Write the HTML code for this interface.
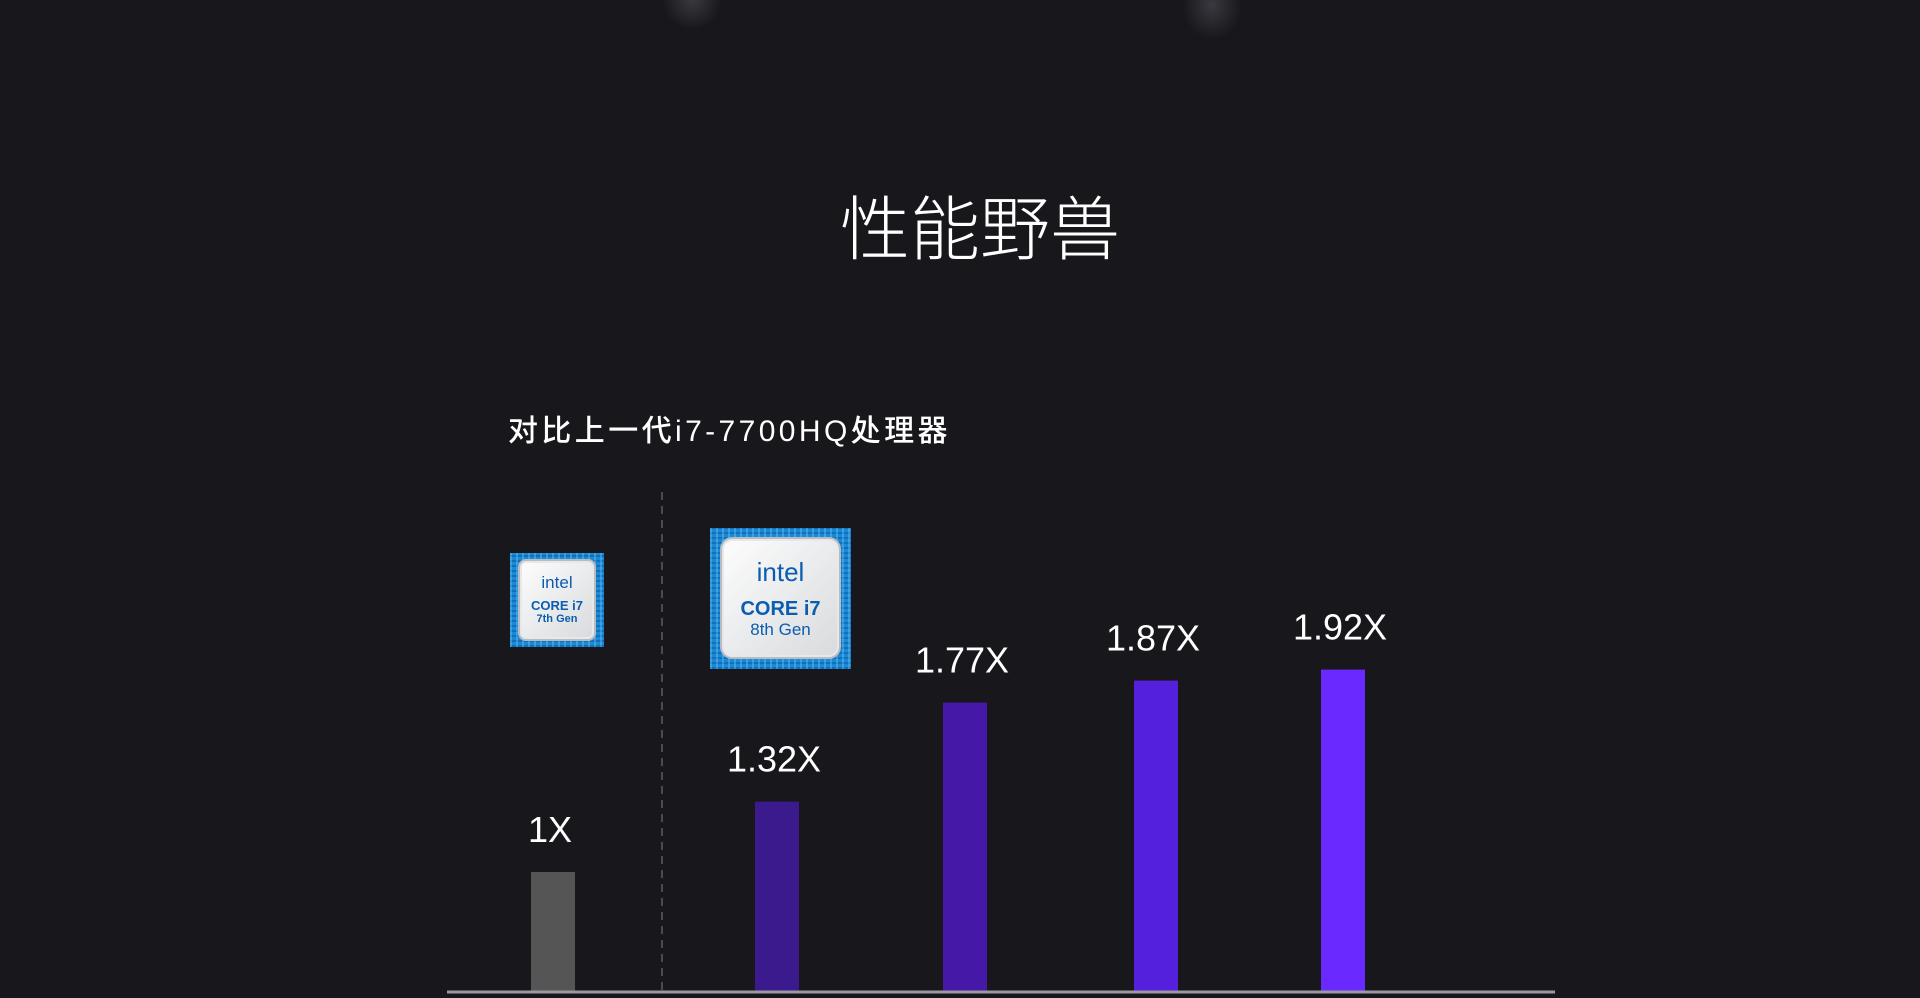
<!DOCTYPE html>
<html><head><meta charset="utf-8"><style>
html,body{margin:0;padding:0;background:#18171c;}
#wrap{position:relative;width:1920px;height:998px;overflow:hidden;background:#18171c;font-family:"Liberation Sans","Noto Sans CJK SC",sans-serif;}
.t{position:absolute;color:#fff;white-space:nowrap;}
.badge{position:absolute;background:#1a8ad6;background-image:repeating-linear-gradient(90deg,rgba(120,210,255,.35) 0 2px,transparent 2px 6px),repeating-linear-gradient(0deg,rgba(0,60,140,.35) 0 2px,transparent 2px 5px);}
.chip{position:absolute;background:linear-gradient(135deg,#fdfdfd,#d8dadd);border:2px solid #b8bcc2;border-radius:10%;box-shadow:0 0 0 2px #e6e8ea inset;text-align:center;color:#0a5db0;font-weight:bold;}
</style></head><body>
<div id="wrap">
<div style="position:absolute;left:662px;top:-30px;width:60px;height:60px;border-radius:50%;background:radial-gradient(#3a393f,transparent 70%)"></div>
<div style="position:absolute;left:1182px;top:-30px;width:60px;height:70px;border-radius:50%;background:radial-gradient(#3a393f,transparent 70%)"></div>
<div class="t" style="left:0;width:1960px;text-align:center;top:180px;font-size:70px;line-height:90px;font-family:'Noto Sans CJK SC',sans-serif;font-weight:300;">性能野兽</div>
<div class="t" style="left:508px;top:412px;font-size:30px;line-height:40px;font-weight:500;letter-spacing:3.4px;font-family:'Liberation Sans','Noto Sans CJK SC',sans-serif;">对比上一代i7-7700HQ处理器</div>
<div class="badge" style="left:510px;top:553px;width:94px;height:94px;">
 <div class="chip" style="left:8px;top:6px;width:74px;height:78px;">
  <div style="margin-top:12px;font-size:17px;font-weight:normal;">intel</div>
  <div style="font-size:13px;line-height:14px;margin-top:6px">CORE i7</div>
  <div style="font-size:11px;line-height:12px">7th Gen</div>
 </div></div>
<div class="badge" style="left:710px;top:528px;width:141px;height:141px;">
 <div class="chip" style="left:10px;top:9px;width:117px;height:118px;">
  <div style="margin-top:18px;font-size:26px;font-weight:normal;">intel</div>
  <div style="font-size:20px;line-height:22px;margin-top:10px">CORE i7</div>
  <div style="font-size:17px;line-height:19px;font-weight:normal">8th Gen</div>
 </div></div>
<svg id="chart" width="1920" height="998" style="position:absolute;left:0;top:0"></svg>
</div>
<script>
const categories=["i7-7700HQ","8th-gen-a","8th-gen-b","8th-gen-c","8th-gen-d"];
const values=[1,1.32,1.77,1.87,1.92];
const valueLabels=["1X","1.32X","1.77X","1.87X","1.92X"];
const colors=["#555555","#3a1a8c","#4518a8","#5520dc","#6a2aff"];
const svg=document.getElementById('chart');
const NS='http://www.w3.org/2000/svg';
const baseY=992;
function yScale(v){return baseY-(-100+220*v);}
const centers=[553,777,965,1156,1343];
function xCenter(i){return centers[i];}
const bw=44;
function mk(tag,attrs){const e=document.createElementNS(NS,tag);for(const k in attrs)e.setAttribute(k,attrs[k]);svg.appendChild(e);return e;}
const dl=mk('line',{x1:662,y1:492,x2:662,y2:992,stroke:'#4a4a52','stroke-width':2,'stroke-dasharray':'8,6'});


values.forEach((v,i)=>{
 const y=yScale(v);
 const r=mk('rect',{x:xCenter(i)-bw/2,y:y,width:bw,height:baseY-y,fill:colors[i]});
 
 
 const t=mk('text',{x:xCenter(i)-3,y:y-30,fill:'#fff','font-size':36,'text-anchor':'middle','font-family':'Liberation Sans, sans-serif'});
 t.textContent=valueLabels[i];
 
 
});
const ax=mk('line',{x1:447,y1:992,x2:1555,y2:992,stroke:'#9a9aa0','stroke-width':3});


</script>
</body></html>
